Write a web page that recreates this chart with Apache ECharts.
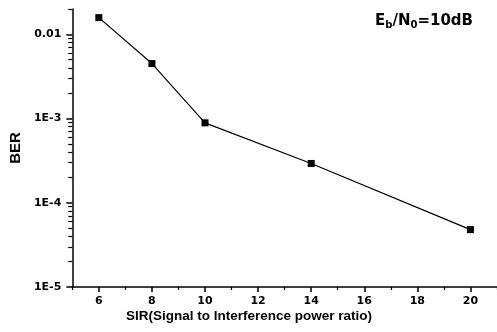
<!DOCTYPE html>
<html>
<head>
<meta charset="utf-8">
<script src="https://cdn.jsdelivr.net/npm/echarts@6/dist/echarts.min.js"></script>
<style>
  html, body { margin: 0; padding: 0; background: #fff; }
  #chart { width: 497px; height: 332px; }
</style>
</head>
<body>
<div id="chart"></div>
<script>
// SIR (dB) vs BER, Eb/N0 = 10dB
const sirValues = [6, 8, 10, 14, 20];
const berValues = [0.0158, 0.0045, 0.00089, 0.000293, 0.000048];

const xMajorTicks = [6, 8, 10, 12, 14, 16, 18, 20];
const xMinorTicks = [5, 7, 9, 11, 13, 15, 17, 19, 21];
const yMajorTicks = [1e-5, 1e-4, 1e-3, 1e-2];
const yTickLabels = ['1E-5', '1E-4', '1E-3', '0.01'];
const yMinorTicks = [
  2e-5, 3e-5, 4e-5, 5e-5, 6e-5, 7e-5, 8e-5, 9e-5,
  2e-4, 3e-4, 4e-4, 5e-4, 6e-4, 7e-4, 8e-4, 9e-4,
  2e-3, 3e-3, 4e-3, 5e-3, 6e-3, 7e-3, 8e-3, 9e-3,
  2e-2
];

const FONT = 'Liberation Sans';
const TICK_FONT = 'DejaVu Sans';
const INK = '#000';

const chart = echarts.init(document.getElementById('chart'), null, { renderer: 'canvas' });

const labelFor = (v) => {
  const i = yMajorTicks.findIndex((t) => Math.abs(Math.log10(t) - Math.log10(v)) < 1e-6);
  return i >= 0 ? yTickLabels[i] : '';
};

chart.setOption({
  animation: false,
  backgroundColor: '#fff',
  grid: { left: 70, right: 0, top: 9, bottom: 45 },
  xAxis: [
    {
      type: 'value',
      min: 5,
      max: 21,
      axisLine: { lineStyle: { color: INK, width: 1.5 } },
      axisTick: { customValues: xMajorTicks, length: 5, lineStyle: { color: INK, width: 1.5 } },
      axisLabel: {
        customValues: xMajorTicks,
        margin: 9,
        color: INK,
        fontFamily: TICK_FONT,
        fontWeight: 'bold',
        fontSize: 11,
      },
      splitLine: { show: false },
    },
    {
      type: 'value',
      position: 'bottom',
      min: 5,
      max: 21,
      axisLine: { show: false },
      axisTick: { customValues: xMinorTicks, length: 3, lineStyle: { color: INK, width: 1.2 } },
      axisLabel: { show: false },
      splitLine: { show: false },
    },
  ],
  yAxis: [
    {
      type: 'log',
      logBase: 10,
      min: 1e-5,
      max: 0.02,
      name: 'BER',
      nameLocation: 'middle',
      nameRotate: 90,
      nameGap: 46,
      nameTextStyle: { color: INK, fontFamily: FONT, fontWeight: 'bold', fontSize: 15 },
      axisLine: { show: true, lineStyle: { color: INK, width: 1.5 } },
      axisTick: { customValues: yMajorTicks, length: 6, lineStyle: { color: INK, width: 1.5 } },
      axisLabel: {
        customValues: yMajorTicks,
        formatter: labelFor,
        margin: 11,
        color: INK,
        fontFamily: TICK_FONT,
        fontWeight: 'bold',
        fontSize: 11,
      },
      splitLine: { show: false },
    },
    {
      type: 'log',
      logBase: 10,
      position: 'left',
      min: 1e-5,
      max: 0.02,
      axisLine: { show: false },
      axisTick: { customValues: yMinorTicks, length: 4, lineStyle: { color: INK, width: 1.2 } },
      axisLabel: { show: false },
      splitLine: { show: false },
    },
  ],
  graphic: [
    {
      type: 'text',
      x: 249,
      y: 316,
      style: {
        text: 'SIR(Signal to Interference power ratio)',
        fill: INK,
        font: 'bold 13.5px "Liberation Sans"',
        align: 'center',
        verticalAlign: 'middle',
      },
    },
    {
      type: 'text',
      x: 375,
      y: 21,
      style: {
        text: 'E{sub|b}/N{sub|0}=10dB',
        fill: INK,
        font: 'bold 15px "DejaVu Sans"',
        verticalAlign: 'middle',
        rich: {
          sub: { font: 'bold 10px "DejaVu Sans"', fill: INK, padding: [9, 0, 0, 0] },
        },
      },
    },
  ],
  series: [
    {
      type: 'line',
      xAxisIndex: 0,
      yAxisIndex: 0,
      data: sirValues.map((x, i) => [x, berValues[i]]),
      symbol: 'rect',
      symbolSize: 7,
      lineStyle: { color: INK, width: 1.2 },
      itemStyle: { color: INK },
    },
  ],
});
</script>
</body>
</html>
